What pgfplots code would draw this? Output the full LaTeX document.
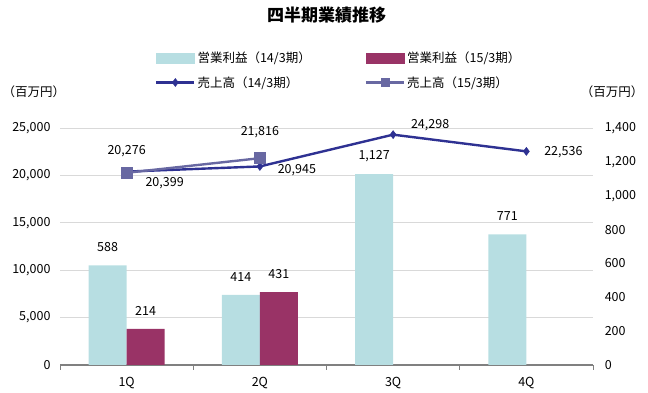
\documentclass[border=0pt]{standalone}
\usepackage{fontspec}
\setmainfont{Noto Sans CJK JP}
\usepackage{pgfplots}
\usepackage{pgfplotstable}
\pgfplotsset{compat=1.18}
\definecolor{cyanbar}{RGB}{183,222,226}
\definecolor{maroonbar}{RGB}{153,51,102}
\definecolor{lineA}{RGB}{46,49,146}
\definecolor{lineB}{RGB}{104,104,162}
\definecolor{gridc}{RGB}{217,217,217}
\definecolor{axisc}{RGB}{128,128,128}

\pgfplotsset{
  linelegend/.style={legend image code/.code={\draw[mark repeat=2,mark phase=2,##1] plot coordinates {(0pt,0pt)(19pt,0pt)(38pt,0pt)};}},
  linelegendB/.style={legend image code/.code={\draw[mark repeat=2,mark phase=2,##1,mark size=4pt] plot coordinates {(0pt,0pt)(19pt,0pt)(38pt,0pt)};}},
  cyanlegend/.style={legend image code/.code={\fill[cyanbar] (0pt,-5pt) rectangle (38pt,5pt);}},
  maroonlegend/.style={legend image code/.code={\fill[maroonbar] (0pt,-5pt) rectangle (38pt,5pt);}},
}

\pgfplotstableread{
x y
1 588
2 414
3 1127
4 771
}\profitA
\pgfplotstableread{
x y
1 214
2 431
}\profitB
\pgfplotstableread{
x y dx dy
1 20399 38 -12
2 20945 37 -4
3 24298 37 9
4 22536 37 -1
}\salesA
\pgfplotstableread{
x y dx dy
1 20276 0 22
2 21816 0 26
}\salesB

\newcommand{\tf}{\fontsize{12.5}{14}\selectfont}

\begin{document}
\begin{tikzpicture}
\useasboundingbox (-60pt,-28pt) rectangle (588pt,365pt);
% right axis: operating profit bars
\begin{axis}[
  at={(0pt,0pt)}, anchor=south west,
  scale only axis, width=533pt, height=237pt,
  xmin=0.5, xmax=4.5, ymin=0, ymax=1400,
  axis y line*=right, axis x line*=bottom,
  y axis line style={draw=none},
  x axis line style={axisc, line width=1.6pt, -},
  ytick={0,200,...,1400},
  ytick style={draw=none},
  extra y ticks={280,560,840,1120,1400},
  extra y tick labels={},
  extra y tick style={grid=major, tick style={draw=none}},
  major grid style={gridc, line width=0.8pt},
  xtick={1,2,3,4}, xticklabels={1Q,2Q,3Q,4Q},
  major x tick style={draw=none},
  minor xtick={0.5,1.5,2.5,3.5,4.5},
  minor x tick style={axisc, line width=1pt},
  minor tick length=5pt,
  tick align=outside,
  tick label style={font=\tf},
  yticklabel style={anchor=west, xshift=4pt},
  xticklabel style={yshift=-4pt},
  /pgf/number format/assume math mode=true,
  /pgf/number format/1000 sep={,},
  clip=false,
]
\addplot[ybar, bar width=0.286, bar shift=-0.143, fill=cyanbar, draw=none,
  nodes near coords, point meta=y,
  nodes near coords style={font=\tf, anchor=center, xshift=-19pt, yshift=18pt, text=black,
    /pgf/number format/1000 sep={,}, /pgf/number format/assume math mode=true}]
  table[x=x,y=y]{\profitA};
\addplot[ybar, bar width=0.286, bar shift=0.143, fill=maroonbar, draw=none,
  nodes near coords, point meta=y,
  nodes near coords style={font=\tf, anchor=center, xshift=19pt, yshift=18pt, text=black,
    /pgf/number format/1000 sep={,}, /pgf/number format/assume math mode=true}]
  table[x=x,y=y]{\profitB};
\end{axis}
% left axis: sales lines
\begin{axis}[
  at={(0pt,0pt)}, anchor=south west,
  scale only axis, width=533pt, height=237pt,
  xmin=0.5, xmax=4.5, ymin=0, ymax=25000,
  hide x axis,
  axis y line*=left,
  y axis line style={draw=none},
  ytick={0,5000,...,25000},
  ytick style={draw=none},
  scaled y ticks=false,
  tick label style={font=\tf},
  yticklabel style={anchor=east, xshift=-6pt},
  /pgf/number format/assume math mode=true,
  /pgf/number format/1000 sep={,},
  clip=false,
  legend columns=2,
  legend cell align=left,
  legend style={at={(0.523,1.3376)}, anchor=north, draw=none, fill=none,
    font=\tf, row sep=8pt,
    /tikz/every even column/.append style={column sep=52pt}},
]
\addlegendimage{cyanlegend}
\addlegendentry{営業利益（14/3期）}
\addlegendimage{maroonlegend}
\addlegendentry{営業利益（15/3期）}
\addplot[lineA, line width=2.4pt, mark=diamond*, mark size=4pt,
  mark options={solid, line width=0.5pt}, linelegend,
  nodes near coords, point meta=y,
  visualization depends on={\thisrow{dx} \as \dx},
  visualization depends on={\thisrow{dy} \as \dy},
  nodes near coords style={font=\tf, text=black, anchor=center, xshift=\dx pt, yshift=\dy pt,
    /pgf/number format/1000 sep={,}, /pgf/number format/assume math mode=true}]
  table[x=x,y=y]{\salesA};
\addlegendentry{売上高（14/3期）}
\addplot[lineB, line width=2.4pt, mark=square*, mark size=5.5pt,
  mark options={solid, line width=0.5pt}, linelegendB,
  nodes near coords, point meta=y,
  visualization depends on={\thisrow{dx} \as \dx},
  visualization depends on={\thisrow{dy} \as \dy},
  nodes near coords style={font=\tf, text=black, anchor=center, xshift=\dx pt, yshift=\dy pt,
    /pgf/number format/1000 sep={,}, /pgf/number format/assume math mode=true}]
  table[x=x,y=y]{\salesB};
\addlegendentry{売上高（15/3期）}
\end{axis}
\node[font=\fontsize{17}{20}\selectfont\bfseries] at (266.5pt,350pt) {四半期業績推移};
\node[font=\tf] at (-26pt,273pt) {（百万円）};
\node[font=\tf] at (552pt,273pt) {（百万円）};
\end{tikzpicture}
\end{document}
